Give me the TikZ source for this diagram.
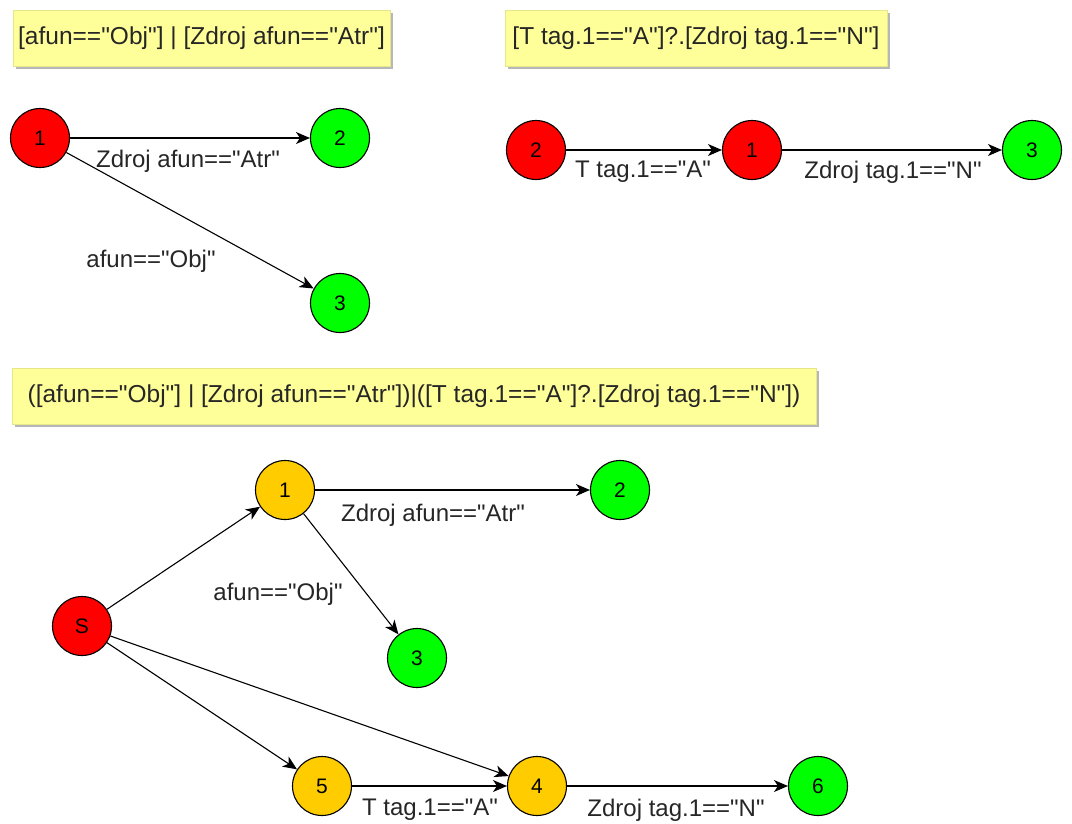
\documentclass[tikz,border=0pt]{standalone}
\usepackage{fontspec}
\setmainfont{Liberation Sans}[Ligatures=TeXOff]
\usetikzlibrary{arrows.meta,shadows}
\definecolor{nred}{HTML}{FF0000}
\definecolor{ngreen}{HTML}{00FF00}
\definecolor{norange}{HTML}{FFCC00}
\definecolor{boxfill}{HTML}{FFFF99}
\definecolor{boxline}{HTML}{E6E68A}
\tikzset{
  st/.style={circle,draw=black,line width=1.1pt,minimum size=59pt,inner sep=0pt,font=\fontsize{21}{24}\selectfont},
  redst/.style={st,fill=nred},
  greenst/.style={st,fill=ngreen},
  orangest/.style={st,fill=norange},
  lbl/.style={inner sep=0pt,font=\fontsize{24}{27}\selectfont,text=black!85},
  expr/.style={draw=boxline,fill=boxfill,inner sep=0pt,font=\fontsize{24.5}{27}\selectfont,text=black!85,
     drop shadow={shadow xshift=3pt,shadow yshift=-3pt,fill=black!35,opacity=0.8}},
  conn/.style={draw=black,line width=1.1pt,-{Stealth[length=14pt,width=12pt,inset=4pt]}},
}
\begin{document}
\begin{tikzpicture}[x=1pt,y=-1pt]
\useasboundingbox[fill=white] (0,0) rectangle (1072,823);
% boxes
\node[expr,minimum width=377pt,minimum height=56pt] (e1) at (201.5,38) {[afun=="Obj"] | [Zdroj afun=="Atr"]};
\node[expr,minimum width=382pt,minimum height=56pt] (e2) at (696,38) {[T tag.1=="A"]?.[Zdroj tag.1=="N"]};
\node[expr,minimum width=804pt,minimum height=56pt] (e3) at (414,396) {([afun=="Obj"] | [Zdroj afun=="Atr"])|([T tag.1=="A"]?.[Zdroj tag.1=="N"])};
% top-left graph
\node[redst] (a1) at (40,138) {1};
\node[greenst] (a2) at (340,138) {2};
\node[greenst] (a3) at (340,303) {3};
\draw[conn] (a1) -- (a2);
\draw[conn] (a1) -- (a3);
\node[lbl] (la12) at (188,161) {Zdroj afun=="Atr"};
\node[lbl] (la13) at (151,261) {afun=="Obj"};
% top-right graph
\node[redst] (b2) at (536,150) {2};
\node[redst] (b1) at (752,150) {1};
\node[greenst] (b3) at (1032,150) {3};
\draw[conn] (b2) -- (b1);
\draw[conn] (b1) -- (b3);
\node[lbl] (lb21) at (643,172) {T tag.1=="A"};
\node[lbl] (lb13) at (893,172) {Zdroj tag.1=="N"};
% bottom graph
\node[redst] (cS) at (82,626) {S};
\node[orangest] (c1) at (285,490) {1};
\node[greenst] (c2) at (620,490) {2};
\node[greenst] (c3) at (417,658) {3};
\node[orangest] (c5) at (322,786) {5};
\node[orangest] (c4) at (537,786) {4};
\node[greenst] (c6) at (818,786) {6};
\draw[conn] (cS) -- (c1);
\draw[conn] (c1) -- (c2);
\draw[conn] (c1) -- (c3);
\draw[conn] (cS) -- (c5);
\draw[conn] (cS) -- (c4);
\draw[conn] (c5) -- (c4);
\draw[conn] (c4) -- (c6);
\node[lbl] (lc12) at (433,515) {Zdroj afun=="Atr"};
\node[lbl] (lc13) at (278,594) {afun=="Obj"};
\node[lbl] (lc54) at (430,810) {T tag.1=="A"};
\node[lbl] (lc46) at (676,810) {Zdroj tag.1=="N"};
\end{tikzpicture}
\end{document}
